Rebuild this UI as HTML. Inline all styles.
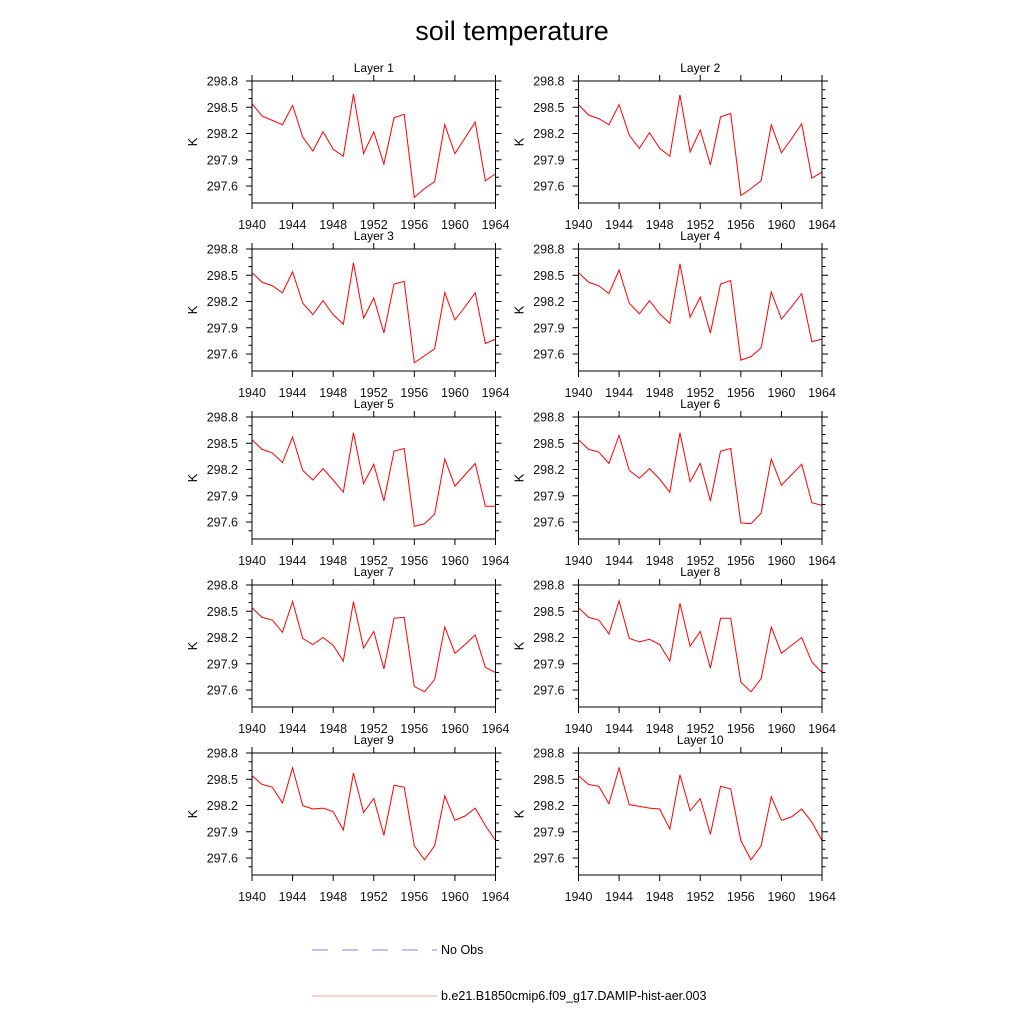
<!DOCTYPE html>
<html><head><meta charset="utf-8"><style>
html,body{margin:0;padding:0;background:#fff;}
svg{display:block;font-family:"Liberation Sans",sans-serif;}
</style></head><body>
<svg id="chart" width="1024" height="1024" viewBox="0 0 1024 1024" xmlns="http://www.w3.org/2000/svg">
<rect width="1024" height="1024" fill="#fff"/>
<text x="512" y="40" font-size="27" text-anchor="middle" fill="#000">soil temperature</text>
<g>
<line x1="312" y1="950" x2="437" y2="950" stroke="#8080f0" stroke-width="1" stroke-dasharray="16,14"/>
<text x="441" y="954" font-size="12.5">No Obs</text>
<line x1="312" y1="996" x2="437" y2="996" stroke="#f99" stroke-width="1"/>
<text x="441" y="1000" font-size="12.5">b.e21.B1850cmip6.f09_g17.DAMIP-hist-aer.003</text>
</g>
<g id="panels"></g>
</svg>
<script>
const years = [1940,1941,1942,1943,1944,1945,1946,1947,1948,1949,1950,1951,1952,1953,1954,1955,1956,1957,1958,1959,1960,1961,1962,1963,1964];
const layer1 = [298.54,298.40,298.35,298.30,298.52,298.16,298.00,298.22,298.02,297.94,298.65,297.97,298.22,297.85,298.38,298.42,297.47,297.57,297.65,298.30,297.97,298.15,298.33,297.66,297.74];
const layer2 = [298.53,298.41,298.37,298.30,298.53,298.18,298.03,298.21,298.03,297.94,298.64,297.99,298.24,297.84,298.39,298.43,297.49,297.57,297.66,298.30,297.98,298.14,298.31,297.69,297.76];
const layer3 = [298.53,298.42,298.38,298.30,298.54,298.18,298.05,298.21,298.05,297.94,298.64,298.01,298.24,297.84,298.40,298.43,297.50,297.58,297.66,298.30,297.99,298.14,298.30,297.72,297.77];
const layer4 = [298.53,298.42,298.38,298.29,298.56,298.18,298.06,298.21,298.06,297.95,298.63,298.02,298.25,297.84,298.40,298.44,297.53,297.57,297.67,298.31,298.00,298.14,298.29,297.74,297.77];
const layer5 = [298.54,298.43,298.39,298.28,298.57,298.19,298.08,298.21,298.08,297.94,298.62,298.04,298.26,297.84,298.41,298.44,297.55,297.58,297.69,298.32,298.01,298.14,298.27,297.78,297.78];
const layer6 = [298.54,298.43,298.40,298.27,298.59,298.19,298.10,298.21,298.09,297.94,298.62,298.06,298.27,297.84,298.41,298.44,297.59,297.58,297.70,298.32,298.02,298.14,298.26,297.82,297.79];
const layer7 = [298.54,298.43,298.40,298.26,298.61,298.19,298.12,298.20,298.11,297.93,298.61,298.08,298.27,297.84,298.42,298.43,297.64,297.58,297.72,298.32,298.02,298.12,298.23,297.86,297.80];
const layer8 = [298.54,298.43,298.40,298.24,298.62,298.19,298.15,298.18,298.12,297.93,298.59,298.10,298.27,297.85,298.42,298.42,297.69,297.58,297.73,298.32,298.02,298.11,298.20,297.92,297.80];
const layer9 = [298.54,298.44,298.41,298.23,298.63,298.20,298.16,298.17,298.13,297.92,298.57,298.12,298.28,297.86,298.43,298.41,297.74,297.58,297.74,298.31,298.03,298.08,298.17,297.97,297.80];
const layer10 = [298.54,298.44,298.42,298.22,298.63,298.21,298.19,298.17,298.16,297.93,298.55,298.14,298.28,297.87,298.42,298.39,297.80,297.58,297.74,298.30,298.03,298.07,298.16,298.01,297.80];
const layerNames = ["Layer 1","Layer 2","Layer 3","Layer 4","Layer 5","Layer 6","Layer 7","Layer 8","Layer 9","Layer 10"];
const yTickLabels = ["297.6","297.9","298.2","298.5","298.8"];
const xTickLabels = ["1940","1944","1948","1952","1956","1960","1964"];
const layers = [layer1,layer2,layer3,layer4,layer5,layer6,layer7,layer8,layer9,layer10];

const NS = "http://www.w3.org/2000/svg";
const root = document.getElementById('panels');
const Y_MIN = 297.406, Y_MAX = 298.8, X_MIN = 1940, X_MAX = 1964;
const PW = 243.5, PH = 122;
function mk(tag, attrs, parent){ const e=document.createElementNS(NS,tag); for(const k in attrs) e.setAttribute(k,attrs[k]); parent.appendChild(e); return e; }

layers.forEach((data, i) => {
  const col = i % 2, row = Math.floor(i/2);
  const L = col === 0 ? 252 : 578.5;
  const T = 81 + row*168;
  const xs = v => L + (v - X_MIN)/(X_MAX - X_MIN)*PW;
  const ys = v => T + (Y_MAX - v)/(Y_MAX - Y_MIN)*PH;
  const g = mk('g', {}, root);
  
  
  const t = mk('text', {x: L+PW/2, y: T-9, 'font-size': 12, 'text-anchor': 'middle'}, g);
  t.textContent = layerNames[i];
  
  
  for (let k = 0; k <= 13; k++) {
    const v = 297.5 + k*0.1;
    if (v < Y_MIN - 1e-6 || v > Y_MAX + 1e-6) continue;
    const y = ys(v);
    const major = yTickLabels.some(s => Math.abs(parseFloat(s) - v) < 1e-6);
    const len = major ? 6 : 3.5;
    const a = mk('line', {x1: L-len, x2: L, y1: y, y2: y, stroke: '#000', 'stroke-width': 1}, g);
    
    
    const b = mk('line', {x1: L+PW, x2: L+PW+len, y1: y, y2: y, stroke: '#000', 'stroke-width': 1}, g);
    
    
  }
  yTickLabels.forEach(s => {
    const tx = mk('text', {x: L-14, y: ys(parseFloat(s))+4.5, 'font-size': 12.5, 'text-anchor': 'end', fill: '#111'}, g);
    tx.textContent = s;
    
    
  });
  xTickLabels.forEach(s => {
    const x = xs(parseFloat(s));
    const a = mk('line', {x1: x, x2: x, y1: T+PH, y2: T+PH+6, stroke: '#000', 'stroke-width': 1}, g);
    
    
    const b = mk('line', {x1: x, x2: x, y1: T-6, y2: T, stroke: '#000', 'stroke-width': 1}, g);
    
    
    const tx = mk('text', {x: x, y: T+PH+26, 'font-size': 12.5, 'text-anchor': 'middle', fill: '#111'}, g);
    tx.textContent = s;
    
    
  });
  const yl = mk('text', {x: 0, y: 0, 'font-size': 13, 'text-anchor': 'middle', transform: `translate(${L-55},${T+PH/2}) rotate(-90)`}, g);
  yl.textContent = 'K';
  
  
  const pts = data.map((v, j) => xs(years[j]).toFixed(2) + ',' + ys(v).toFixed(2)).join(' ');
  const pl = mk('polyline', {points: pts, fill: 'none', stroke: '#ff0000', 'stroke-width': 1, 'stroke-linejoin': 'miter'}, g);
  
  
  const fr = mk('rect', {x: L, y: T, width: PW, height: PH, fill: 'none', stroke: '#000', 'stroke-width': 1}, g);
  
  
});
</script>
</body></html>
